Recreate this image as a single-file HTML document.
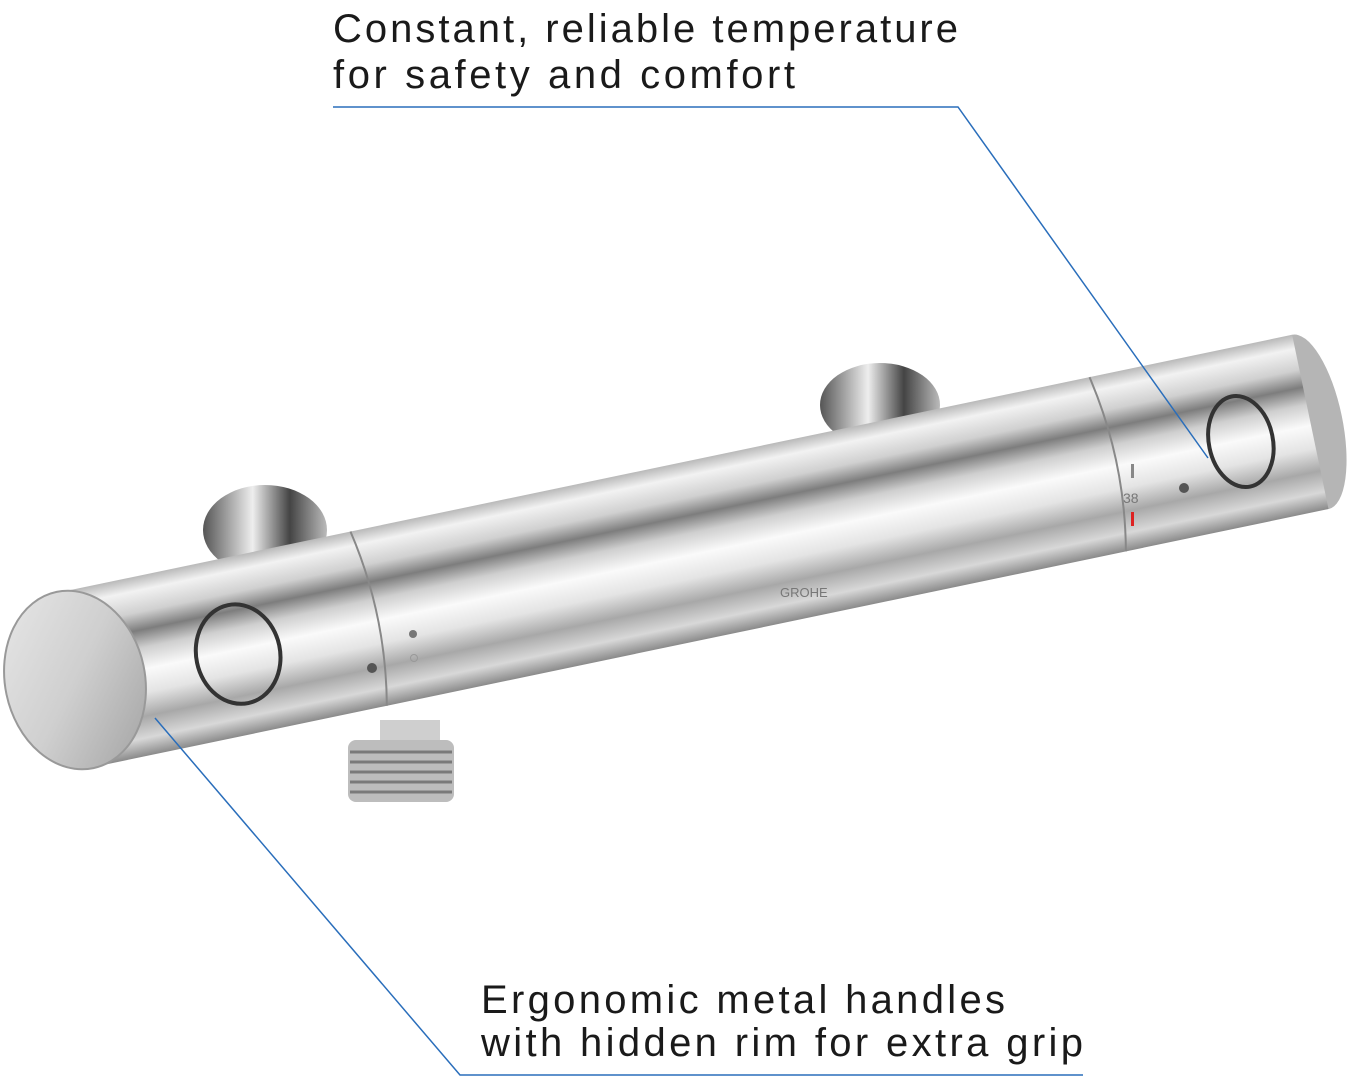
<!DOCTYPE html>
<html><head><meta charset="utf-8"><style>
html,body{margin:0;padding:0;background:#fff;}
svg{display:block}
text{font-family:"Liberation Sans",sans-serif;fill:#1a1a1a}
</style></head><body>
<svg width="1366" height="1081" viewBox="0 0 1366 1081" xmlns="http://www.w3.org/2000/svg">
<defs>
<linearGradient id="cyl" x1="0" y1="0" x2="0" y2="1">
<stop offset="0" stop-color="#b9b9b9"/>
<stop offset="0.08" stop-color="#f2f2f2"/>
<stop offset="0.2" stop-color="#d0d0d0"/>
<stop offset="0.3" stop-color="#7d7d7d"/>
<stop offset="0.4" stop-color="#cfcfcf"/>
<stop offset="0.52" stop-color="#fafafa"/>
<stop offset="0.65" stop-color="#e4e4e4"/>
<stop offset="0.78" stop-color="#a8a8a8"/>
<stop offset="0.9" stop-color="#d8d8d8"/>
<stop offset="1" stop-color="#8a8a8a"/>
</linearGradient>
<linearGradient id="cap" x1="0" y1="0" x2="1" y2="1">
<stop offset="0" stop-color="#e8e8e8"/>
<stop offset="0.5" stop-color="#cfcfcf"/>
<stop offset="1" stop-color="#a0a0a0"/>
</linearGradient>
<linearGradient id="mount" x1="0" y1="0" x2="1" y2="0">
<stop offset="0" stop-color="#555"/>
<stop offset="0.4" stop-color="#eee"/>
<stop offset="0.7" stop-color="#444"/>
<stop offset="1" stop-color="#bbb"/>
</linearGradient>
</defs>

<ellipse cx="265" cy="530" rx="62" ry="45" fill="url(#mount)"/>
<ellipse cx="880" cy="405" rx="60" ry="42" fill="url(#mount)"/>

<rect x="380" y="720" width="60" height="30" fill="#cfcfcf"/>
<rect x="348" y="740" width="106" height="62" rx="8" fill="#bdbdbd"/>
<g stroke="#7a7a7a" stroke-width="3">
<line x1="350" y1="752" x2="452" y2="752"/><line x1="350" y1="762" x2="452" y2="762"/>
<line x1="350" y1="772" x2="452" y2="772"/><line x1="350" y1="782" x2="452" y2="782"/>
<line x1="350" y1="792" x2="452" y2="792"/>
</g>

<g transform="translate(75,680) rotate(-11.8)">
  <ellipse cx="1262" cy="0" rx="32" ry="89" fill="#b5b5b5"/>
  <rect x="0" y="-89" width="1262" height="178" fill="url(#cyl)"/>
  <path d="M300,-89 q18,89 0,178" fill="none" stroke="#888" stroke-width="2"/>
  <path d="M1055,-89 q18,89 0,178" fill="none" stroke="#888" stroke-width="2"/>
  <ellipse cx="165" cy="8" rx="42" ry="50" fill="none" stroke="#333" stroke-width="4"/>
  <ellipse cx="1190" cy="5" rx="32" ry="46" fill="none" stroke="#333" stroke-width="4"/>
  <ellipse cx="0" cy="0" rx="70" ry="90" fill="url(#cap)" stroke="#999" stroke-width="2"/>
</g>

<text x="780" y="597" font-size="13" style="fill:#777">GROHE</text>
<circle cx="413" cy="634" r="4" fill="#777"/>
<circle cx="414" cy="658" r="3.5" fill="none" stroke="#999"/>
<circle cx="372" cy="668" r="5" fill="#555"/>
<circle cx="1184" cy="488" r="5" fill="#555"/>
<text x="1123" y="503" font-size="14" style="fill:#777">38</text>
<rect x="1131" y="464" width="3" height="14" fill="#888"/>
<rect x="1131" y="512" width="3" height="14" fill="#d22"/>

<text x="333" y="42" font-size="40" textLength="625" lengthAdjust="spacing">Constant, reliable temperature</text>
<text x="333" y="88" font-size="40" textLength="462" lengthAdjust="spacing">for safety and comfort</text>
<polyline points="333,107 958,107 1208,458" fill="none" stroke="#2a6ebb" stroke-width="1.5"/>

<text x="481" y="1013" font-size="40" textLength="524" lengthAdjust="spacing">Ergonomic metal handles</text>
<text x="481" y="1056" font-size="40" textLength="602" lengthAdjust="spacing">with hidden rim for extra grip</text>
<polyline points="155,718 460,1075 1083,1075" fill="none" stroke="#2a6ebb" stroke-width="1.5"/>
</svg>
</body></html>
